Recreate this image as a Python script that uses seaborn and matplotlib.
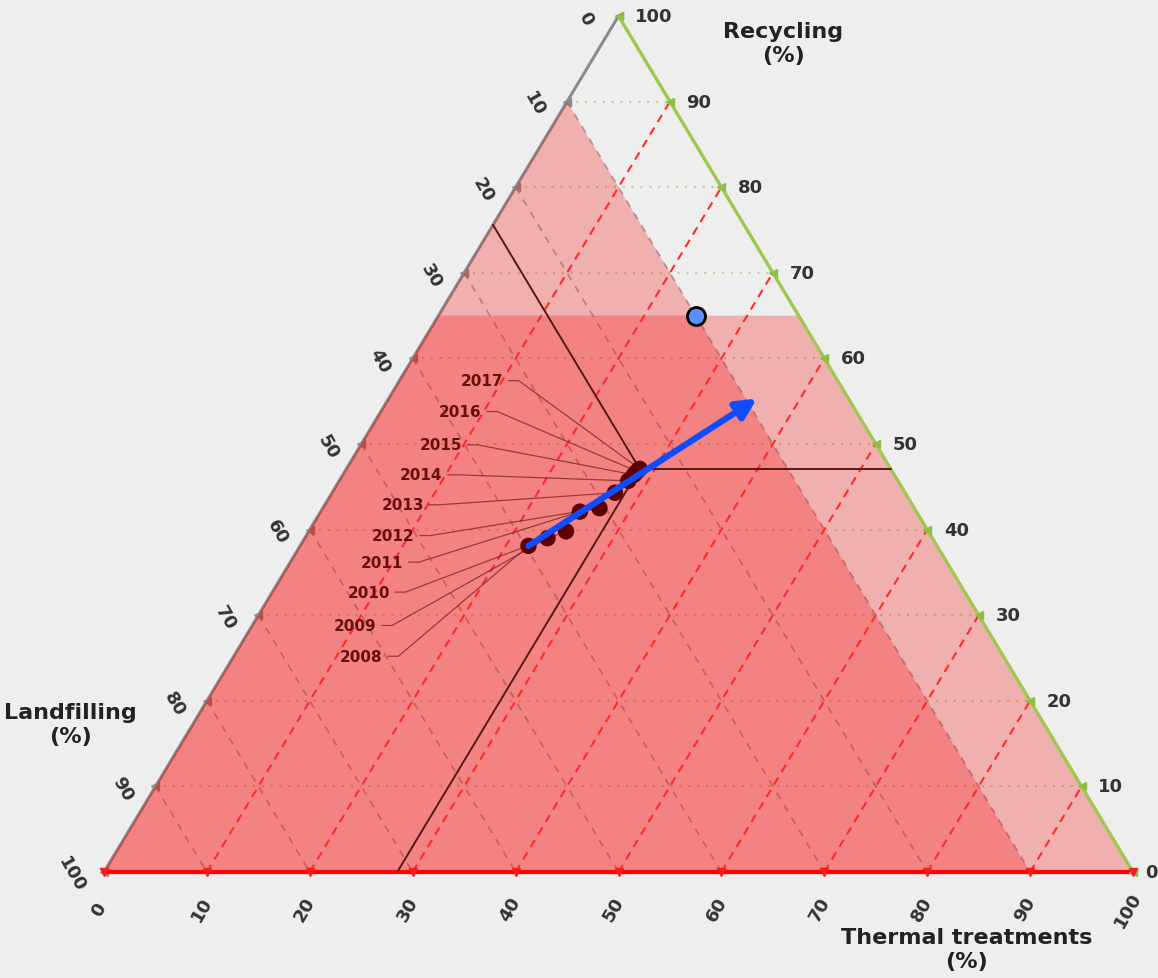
import numpy as np
import matplotlib
matplotlib.use("Agg")
import matplotlib.pyplot as plt
import seaborn as sns

# --- data -------------------------------------------------------------
years = [2008, 2009, 2010, 2011, 2012, 2013, 2014, 2015, 2016, 2017]
recycling = [38.1, 39.0, 39.8, 42.1, 42.5, 44.3, 45.7, 46.4, 46.8, 47.1]
thermal = [22.2, 23.6, 25.0, 25.2, 26.9, 27.5, 28.1, 28.3, 28.4, 28.5]
landfilling = [39.7, 37.4, 35.2, 32.7, 30.6, 28.2, 26.2, 25.3, 24.8, 24.4]

# 2035 target point and trend direction
target_recycling, target_thermal, target_landfilling = 65, 25, 10
trend_end_recycling, trend_end_thermal = 55.3, 35.8

# shaded constraint regions
landfill_min = 10
recycling_max = 65

tick_values = [0, 10, 20, 30, 40, 50, 60, 70, 80, 90, 100]

# --- layout ------------------------------------------------------------
# right end of each year label in plot coordinates (x, y)
label_pos = [(27.1, 25.2), (26.5, 28.8), (27.8, 32.7), (29.1, 36.2),
             (30.2, 39.3), (31.1, 42.9), (32.9, 46.4), (34.8, 49.9),
             (36.7, 53.8), (38.8, 57.4)]

BG = "#eeeeee"
sns.set_theme(style="white", rc={"figure.facecolor": BG, "axes.facecolor": BG})
plt.rcParams["font.family"] = ["DejaVu Sans"]

W, H = 1158, 979
fig = plt.figure(figsize=(W / 100, H / 100), dpi=100)
fig.patch.set_facecolor(BG)
ax = fig.add_axes([104 / W, (H - 873) / H, 1029 / W, 856 / H])
ax.set_xlim(0, 100)
ax.set_ylim(0, 100)
ax.axis("off")


def tern(t, r):
    """thermal / recycling share -> plot coordinates"""
    t = np.asarray(t, float)
    r = np.asarray(r, float)
    return t + r / 2.0, r


# --- grid lines --------------------------------------------------------
for v in tick_values[1:-1]:
    # constant recycling (horizontal)
    x0, y0 = tern(0, v)
    x1, y1 = tern(100 - v, v)
    ax.plot([x0, x1], [y0, y1], ls=(0, (1, 3)), lw=1.6, color="#b5cc7a",
            alpha=0.8, zorder=1)
    # constant landfilling
    x0, y0 = tern(0, 100 - v)
    x1, y1 = tern(100 - v, 0)
    ax.plot([x0, x1], [y0, y1], ls=(0, (4, 4)), lw=1.3, color="#7d7d7d",
            alpha=0.6, zorder=1)
    # constant thermal treatment
    x0, y0 = tern(v, 0)
    x1, y1 = tern(v, 100 - v)
    ax.plot([x0, x1], [y0, y1], ls=(0, (4, 3)), lw=1.5, color="#ff2a2a",
            zorder=3)

# left edge (landfilling axis) drawn beneath the shading
xl, yl = tern([0, 0], [0, 100])
ax.plot(xl, yl, color="#8a8a8a", lw=2.2, zorder=1.5, solid_capstyle="butt")

# --- shaded regions ----------------------------------------------------
fill_color = (0.98, 0.0, 0.0, 0.26)
px, py = tern([0, 0, 100 - landfill_min], [0, 100 - landfill_min, 0])
ax.fill(px, py, color=fill_color, lw=0, zorder=2)
px, py = tern([0, 100, 100 - recycling_max, 0], [0, 0, recycling_max, recycling_max])
ax.fill(px, py, color=fill_color, lw=0, zorder=2)

# --- edges ---------------------------------------------------------------
xb, yb = tern([0, 100], [0, 0])
ax.plot(xb, yb, color="#ff0000", lw=3.0, zorder=4, clip_on=False)
xr, yr = tern([100, 0], [0, 100])
ax.plot(xr, yr, color="#9dc84e", lw=2.4, zorder=4, clip_on=False)

# tick markers and labels
tick_font = dict(fontsize=13, fontweight="bold", color="#333333")
for v in tick_values:
    # thermal treatment (bottom)
    x, y = tern(v, 0)
    ax.plot(x, y, marker="v", ms=6, color="#ff1a1a", zorder=5, clip_on=False)
    ax.annotate(str(v), (x, y), xytext=(-3.6, -26.5), textcoords="offset points",
                rotation=60, ha="center", va="center", **tick_font)
    # recycling (right)
    x, y = tern(100 - v, v)
    ax.plot(x, y, marker="<", ms=6, color="#8dbf45", zorder=5, clip_on=False)
    ax.annotate(str(v), (x, y), xytext=(12 if v else 9, 0),
                textcoords="offset points", ha="left", va="center", **tick_font)
    # landfilling (left)
    x, y = tern(0, 100 - v)
    ax.plot(x, y, marker="<", ms=6, color="#8a8a8a", zorder=1.6, clip_on=False)
    ax.annotate(str(v), (x, y), xytext=(-23.5, -1.5), textcoords="offset points",
                rotation=-60, ha="center", va="center", **tick_font)

# axis titles
title_font = dict(fontsize=16, fontweight="bold", color="#222222",
                  ha="center", va="center", multialignment="center",
                  linespacing=1.25)
ax.text(66.0, 96.8, "Recycling\n(%)", **title_font)
ax.text(-3.3, 17.3, "Landfilling\n(%)", **title_font)
ax.text(83.8, -9.0, "Thermal treatments\n(%)", **title_font)

# --- reference lines through the latest year ----------------------------
t_last, r_last, l_last = thermal[-1], recycling[-1], landfilling[-1]
px0, py0 = tern(t_last, r_last)
line_kw = dict(color="#5a1616", lw=1.4, zorder=6)
for qx, qy in [tern(t_last, 0), tern(100 - r_last, r_last), tern(0, 100 - l_last)]:
    ax.plot([float(px0), float(qx)], [float(py0), float(qy)], **line_kw)

# --- yearly observations -----------------------------------------------
xs, ys = tern(thermal, recycling)
for (lx, ly), yr_, x, y in zip(label_pos, years, xs, ys):
    ax.text(lx, ly, str(yr_), ha="right", va="center", fontsize=11,
            fontweight="bold", color="#6a0d0d", zorder=7)
    ax.plot([lx + 0.5, lx + 1.5, x], [ly, ly, y], color="#7a2222", lw=0.9,
            alpha=0.75, zorder=6)

sns.scatterplot(x=list(xs), y=list(ys), ax=ax, s=140, color="#5e0000",
                edgecolor="none", zorder=8, legend=False)

# trend arrow
arrow_start = (float(xs[0]), float(ys[0]))
ex, ey = tern(trend_end_thermal, trend_end_recycling)
ax.annotate("", xy=(float(ex), float(ey)), xytext=arrow_start,
            arrowprops=dict(arrowstyle="-|>", color="#0d4dff", lw=4.5,
                            mutation_scale=30, shrinkA=0, shrinkB=0),
            zorder=9)

# target point
tx, ty = tern(target_thermal, target_recycling)
sns.scatterplot(x=[float(tx)], y=[float(ty)], ax=ax, s=170, color="#5c8dff",
                edgecolor="black", linewidth=2, zorder=10, legend=False)

fig.savefig("out.png", dpi=100, facecolor=BG)
